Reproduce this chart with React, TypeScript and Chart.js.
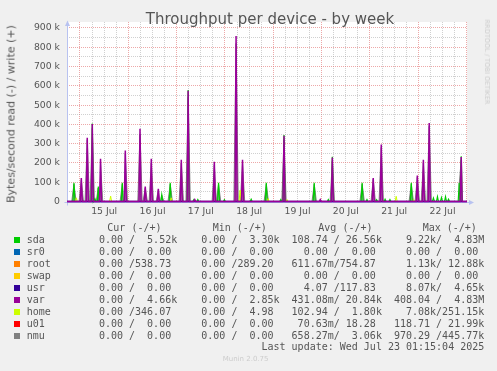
import React, { useEffect, useRef } from 'react';
import { Chart, registerables } from 'chart.js';

Chart.register(...registerables);

// x axis: hours relative to 15 Jul 00:00
const X_MIN = -6.455;
const X_MAX = 192.17;
const Y_MIN = -2600;
const Y_MAX = 931000;

const dayTickValues = [12, 36, 60, 84, 108, 132, 156, 180];
const dayLabels = ['15 Jul', '16 Jul', '17 Jul', '18 Jul', '19 Jul', '20 Jul', '21 Jul', '22 Jul'];

const yTickValues = [0, 100000, 200000, 300000, 400000, 500000, 600000, 700000, 800000, 900000];
const yTickLabels = ['0', '100 k', '200 k', '300 k', '400 k', '500 k', '600 k', '700 k', '800 k', '900 k'];

// write throughput spikes (hour, bytes/s)
const sdaTimes = [-3, 6.1, 7.4, 9.1, 21, 40.6, 44.8, 53.7, 56.5, 58.5, 68.8, 71.7, 85, 92.5, 99.7, 101.3, 116.3, 123.3, 125.3, 140.1, 142.5, 147.3, 151.5, 153.9, 164.5, 175.5, 177.5, 179.5, 181.5, 183, 188.3, 189.3];
const sdaValues = [97000, 405000, 15000, 77000, 97000, 36000, 97000, 578000, 9000, 10000, 97000, 9000, 12000, 97000, 10000, 345000, 97000, 10000, 232000, 97000, 10000, 9000, 12000, 10000, 97000, 18000, 25000, 20000, 25000, 12000, 97000, 235000];

const varTimes = [0.65, 3.6, 6.1, 10.2, 22.5, 29.8, 32.4, 35.4, 38.9, 50.3, 53.7, 57, 66.7, 77.5, 80.7, 101.3, 119.3, 125.3, 145.6, 149.6, 167.5, 170.5, 173.4, 189.3];
const varValues = [122000, 331000, 402000, 221000, 264000, 377000, 77000, 221000, 66000, 217000, 574000, 10000, 206000, 859000, 217000, 341000, 10000, 228000, 122000, 295000, 135000, 217000, 407000, 231000];

const homeTimes = [-1.8, 15.2, 45.3, 79.5, 93.4, 102.8, 157, 165.7];
const homeValues = [19000, 28000, 19000, 59000, 15000, 10000, 27000, 10000];

const nmuTimes = [-3, 0.65, 3.6, 6.1, 9.1, 10.2, 21, 22.5, 29.8, 32.4, 35.4, 38.9, 40.6, 44.8, 50.3, 53.7, 66.7, 68.8, 77.5, 80.7, 92.5, 101.3, 116.3, 125.3, 140.1, 145.6, 149.6, 164.5, 167.5, 170.5, 173.4, 188.3, 189.3];
const nmuValues = [90000, 110000, 320000, 380000, 70000, 200000, 90000, 250000, 350000, 70000, 200000, 60000, 33000, 90000, 200000, 540000, 190000, 90000, 820000, 200000, 90000, 320000, 90000, 210000, 90000, 115000, 280000, 90000, 125000, 200000, 390000, 90000, 215000];

const emptyTimes: number[] = [];
const emptyValues: number[] = [];

// legend
const seriesNames = ['sda', 'sr0', 'root', 'swap', 'usr', 'var', 'home', 'u01', 'nmu'];
const seriesColors = ['#00cc00', '#0066b3', '#ff8000', '#ffcc00', '#330099', '#990099', '#ccff00', '#ff0000', '#808080'];
const curText = ['  0.00 /  5.52k', '  0.00 /  0.00 ', '  0.00 /538.73 ', '  0.00 /  0.00 ', '  0.00 /  0.00 ', '  0.00 /  4.66k', '  0.00 /346.07 ', '  0.00 /  0.00 ', '  0.00 /  0.00 '];
const minText = ['  0.00 /  3.30k', '  0.00 /  0.00 ', '  0.00 /289.20 ', '  0.00 /  0.00 ', '  0.00 /  0.00 ', '  0.00 /  2.85k', '  0.00 /  4.98 ', '  0.00 /  0.00 ', '  0.00 /  0.00 '];
const avgText = ['108.74 / 26.56k', '  0.00 /  0.00 ', '611.67m/754.87 ', '  0.00 /  0.00 ', '  4.07 /117.83 ', '431.08m/ 20.84k', '102.94 /  1.80k', ' 70.63m/ 18.28 ', '658.27m/  3.06k'];
const maxText = ['  9.22k/  4.83M', '  0.00 /  0.00 ', '  1.13k/ 12.88k', '  0.00 /  0.00 ', '  8.07k/  4.65k', '408.04 /  4.83M', '  7.08k/251.15k', '118.71 / 21.99k', '970.29 /445.77k'];

const TEXT = '#555555';
const MAJOR = 'rgba(225,110,110,0.6)';
const MINOR = 'rgba(150,150,150,0.45)';
const AXIS = '#b8c2f0';

function spikes(times: number[], values: number[], w: number) {
  const pts: { x: number; y: number }[] = [
    { x: X_MIN, y: 0 },
    { x: X_MAX, y: 0 },
  ];
  times.forEach((t, i) => {
    pts.push({ x: t - w, y: 0 }, { x: t, y: values[i] }, { x: t + w, y: 0 });
  });
  pts.sort((a, b) => a.x - b.x);
  return pts;
}

const framePlugin = {
  id: 'frame',
  beforeDraw(chart: any) {
    const { ctx, chartArea: a } = chart;
    ctx.save();
    ctx.fillStyle = '#ffffff';
    ctx.fillRect(a.left, a.top, a.right - a.left, a.bottom - a.top);
    ctx.restore();
  },
  beforeDatasetsDraw(chart: any) {
    const { ctx, chartArea: a } = chart;
    ctx.save();
    ctx.strokeStyle = AXIS;
    ctx.fillStyle = AXIS;
    ctx.lineWidth = 1;
    const x0 = Math.round(a.left) + 0.5;
    const y0 = Math.round(a.bottom) + 0.5;
    ctx.beginPath();
    ctx.moveTo(x0, y0 + 3);
    ctx.lineTo(x0, a.top + 4);
    ctx.moveTo(x0 - 3, y0);
    ctx.lineTo(a.right + 2, y0);
    ctx.stroke();
    ctx.beginPath();
    ctx.moveTo(x0, a.top - 1.5);
    ctx.lineTo(x0 - 2.5, a.top + 4);
    ctx.lineTo(x0 + 2.5, a.top + 4);
    ctx.closePath();
    ctx.fill();
    ctx.beginPath();
    ctx.moveTo(a.right + 7, y0);
    ctx.lineTo(a.right + 2, y0 - 2.5);
    ctx.lineTo(a.right + 2, y0 + 2.5);
    ctx.closePath();
    ctx.fill();
    ctx.restore();
  },
};

function lineDs(label: string, color: string, data: any, order: number, extra: any = {}) {
  return {
    label,
    data,
    borderColor: color,
    backgroundColor: color,
    borderWidth: 1,
    pointRadius: 0,
    tension: 0,
    fill: false,
    clip: 2,
    order,
    ...extra,
  };
}

function ChartCanvas() {
  const ref = useRef<HTMLCanvasElement | null>(null);
  useEffect(() => {
    if (!ref.current) return;
    const chart = new Chart(ref.current, {
      type: 'line',
      data: {
        datasets: [
          lineDs('var', seriesColors[5], spikes(varTimes, varValues, 0.5), 0, { borderWidth: 1.5 }),
          lineDs('usr', seriesColors[4], spikes(emptyTimes, emptyValues, 0.5), 1, { borderWidth: 1.5 }),
          lineDs('home', seriesColors[6], spikes(homeTimes, homeValues, 0.5), 2),
          lineDs('sda', seriesColors[0], spikes(sdaTimes, sdaValues, 0.5), 3, { borderWidth: 1.2 }),
          lineDs('sr0', seriesColors[1], spikes(emptyTimes, emptyValues, 0.5), 5),
          lineDs('root', seriesColors[2], spikes(emptyTimes, emptyValues, 0.5), 6),
          lineDs('swap', seriesColors[3], spikes(emptyTimes, emptyValues, 0.5), 7),
          lineDs('u01', seriesColors[7], spikes(emptyTimes, emptyValues, 0.5), 8),
          lineDs('nmu', seriesColors[8], spikes(nmuTimes, nmuValues, 1.1), 4, {
            fill: 'origin',
            backgroundColor: 'rgba(110,110,110,0.6)',
            borderColor: 'rgba(110,110,110,0.8)',
          }),
        ],
      },
      options: {
        animation: false,
        responsive: false,
        devicePixelRatio: 1,
        events: [],
        layout: { padding: { left: 8, top: 22, right: 30, bottom: 149 } },
        plugins: {
          legend: { display: false },
          tooltip: { enabled: false },
          title: { display: false },
        },
        scales: {
          x: {
            type: 'linear',
            min: X_MIN,
            max: X_MAX,
            afterFit: (s: any) => {
              s.height = 20;
            },
            afterBuildTicks: (s: any) => {
              const t: any[] = [];
              for (let v = -6; v <= 192; v += 6) t.push({ value: v });
              s.ticks = t;
            },
            ticks: {
              autoSkip: false,
              maxRotation: 0,
              padding: 4,
              color: TEXT,
              font: { family: 'DejaVu Sans', size: 9.3 },
              callback: (value: any) => {
                const i = dayTickValues.indexOf(value);
                return i >= 0 ? dayLabels[i] : '';
              },
            },
            grid: {
              drawTicks: false,
              lineWidth: 1,
              color: (c: any) => (Math.abs(c.tick.value % 24) < 1e-6 ? MAJOR : MINOR),
            },
            border: { display: false, dash: [1, 1] },
          },
          y: {
            type: 'linear',
            min: Y_MIN,
            max: Y_MAX,
            afterFit: (s: any) => {
              s.width = 59;
            },
            afterBuildTicks: (s: any) => {
              const t: any[] = [];
              for (let v = 0; v <= 900000; v += 50000) t.push({ value: v });
              s.ticks = t;
            },
            ticks: {
              autoSkip: false,
              padding: 7,
              color: TEXT,
              font: { family: 'DejaVu Sans', size: 9.3 },
              callback: (value: any) => {
                const i = yTickValues.indexOf(value);
                return i >= 0 ? yTickLabels[i] : '';
              },
            },
            grid: {
              drawTicks: false,
              lineWidth: 1,
              color: (c: any) => (c.tick.value % 100000 === 0 ? MAJOR : MINOR),
            },
            border: { display: false, dash: [1, 1] },
          },
        },
      },
      plugins: [framePlugin],
    } as any);
    return () => chart.destroy();
  }, []);
  return <canvas ref={ref} width={497} height={371} style={{ position: 'absolute', left: 0, top: 0, width: 497, height: 371 }} />;
}

const mono = "'DejaVu Sans Mono', monospace";
const sans = "'DejaVu Sans', sans-serif";

export default function App() {
  const headers = [
    { t: 'Cur (-/+)', x: 107.3 },
    { t: 'Min (-/+)', x: 212.7 },
    { t: 'Avg (-/+)', x: 318.3 },
    { t: 'Max (-/+)', x: 422.7 },
  ];
  return (
    <div style={{ position: 'absolute', left: 0, top: 0, width: 497, height: 371, background: '#f0f0f0', overflow: 'hidden' }}>
      <ChartCanvas />
      <div style={{ position: 'absolute', left: 270, top: 19, transform: 'translate(-50%, -50%)', whiteSpace: 'nowrap', font: `15px ${sans}`, color: TEXT }}>
        Throughput per device - by week
      </div>
      <div style={{ position: 'absolute', left: 11, top: 114, transform: 'translate(-50%, -50%) rotate(-90deg)', whiteSpace: 'nowrap', font: `11px ${sans}`, color: TEXT }}>
        Bytes/second read (-) / write (+)
      </div>
      <div style={{ position: 'absolute', left: 487, top: 62, transform: 'translate(-50%, -50%) rotate(90deg)', whiteSpace: 'nowrap', font: `6.6px ${sans}`, color: '#cccccc' }}>
        RRDTOOL / TOBI OETIKER
      </div>
      {headers.map((h) => (
        <div key={h.t} style={{ position: 'absolute', left: h.x, top: 221.7, lineHeight: '12px', whiteSpace: 'pre', font: `10px ${mono}`, color: TEXT }}>
          {h.t}
        </div>
      ))}
      {seriesNames.map((n, i) => (
        <React.Fragment key={n}>
          <div style={{ position: 'absolute', left: 14, top: 236.7 + i * 12, width: 6, height: 6, background: seriesColors[i] }} />
          <div style={{ position: 'absolute', left: 26.7, top: 233.7 + i * 12, lineHeight: '12px', height: 12, whiteSpace: 'pre', font: `10px ${mono}`, color: TEXT }}>
            {n.padEnd(10) + curText[i] + '  ' + minText[i] + '  ' + avgText[i] + '  ' + maxText[i]}
          </div>
        </React.Fragment>
      ))}
      <div style={{ position: 'absolute', left: 261.5, top: 341.3, lineHeight: '12px', whiteSpace: 'pre', font: `10px ${mono}`, color: TEXT }}>
        Last update: Wed Jul 23 01:15:04 2025
      </div>
      <div style={{ position: 'absolute', left: 222.7, top: 355, lineHeight: '10px', whiteSpace: 'pre', font: `7px ${sans}`, color: '#cccccc' }}>
        Munin 2.0.75
      </div>
    </div>
  );
}
